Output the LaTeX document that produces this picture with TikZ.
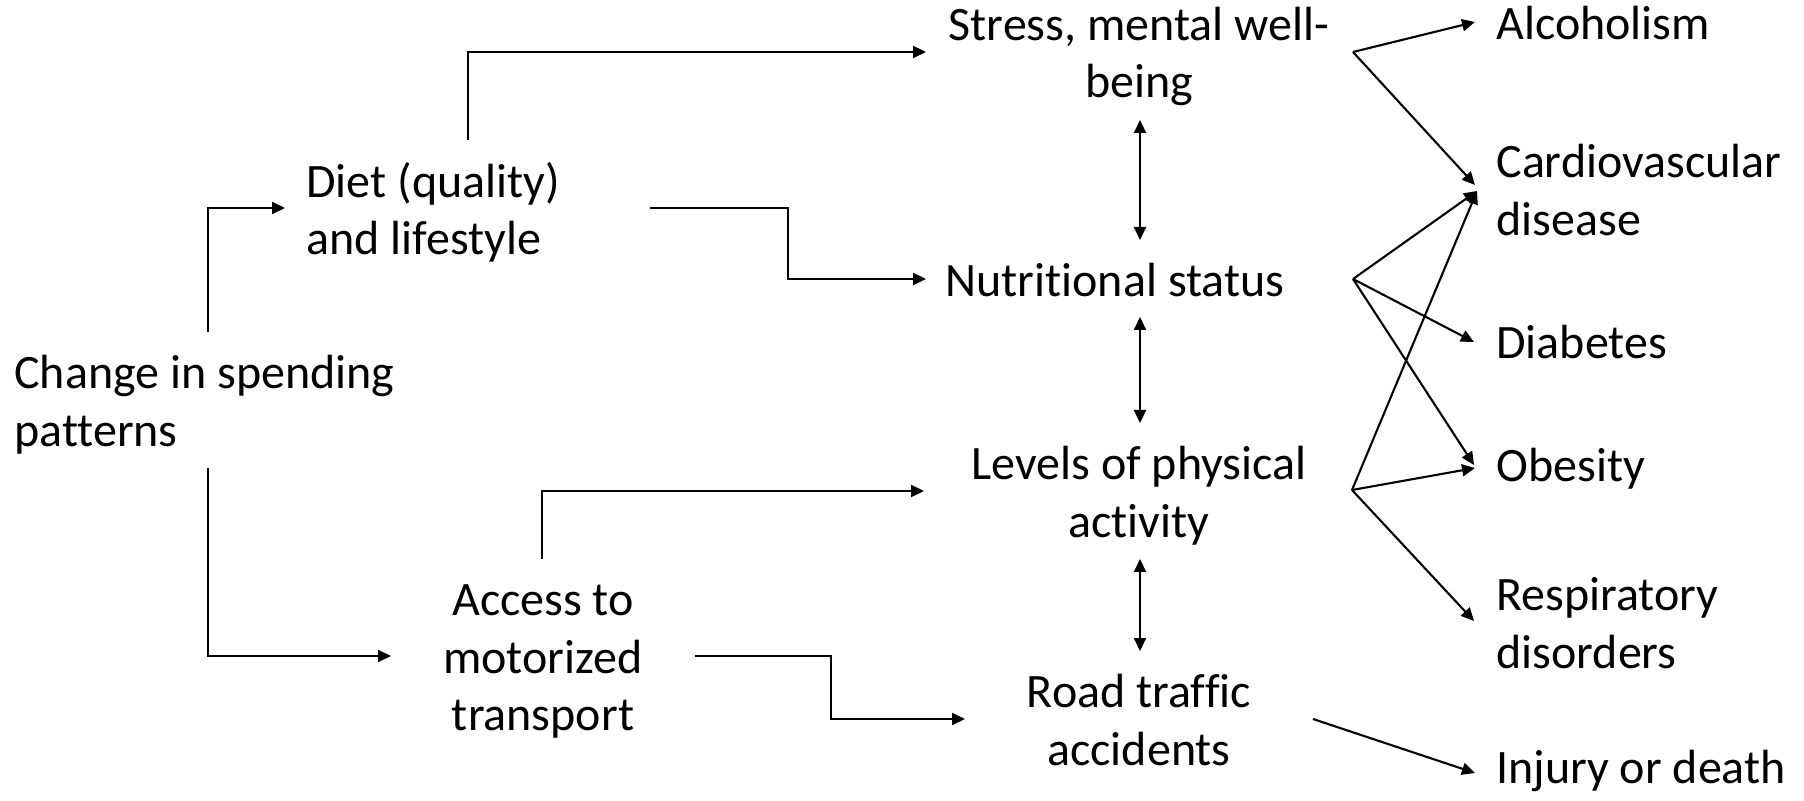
\documentclass[tikz,border=0pt]{standalone}
\usepackage{fontspec}
\setmainfont{Carlito}[Ligatures=NoCommon]
\usetikzlibrary{arrows.meta}
\begin{document}
\begin{tikzpicture}[x=0.5pt,y=-0.5pt,
  lbl/.style={inner sep=0pt,font=\fontsize{24pt}{28.8pt}\selectfont},
  lbll/.style={lbl,align=left,anchor=west},
  lblc/.style={lbl,align=center},
  conn/.style={line width=1.05pt,-{Triangle[length=6.5pt,width=6pt]}},
  dconn/.style={line width=1.05pt,{Triangle[length=6.5pt,width=6pt]}-{Triangle[length=6.5pt,width=6pt]}}]
\useasboundingbox (0,0) rectangle (1804,801);
% nodes
\node[lbll] (chg) at (14,404.5) {Change in spending\\patterns};
\node[lbll] (diet) at (306,212.5) {Diet (quality)\\and lifestyle};
\node[lblc] (acc) at (543,661.5) {Access to\\motorized\\transport};
\node[lblc] (stress) at (1139,56.5) {Stress, mental well-\\being};
\node[lblc] (nut) at (1115,280) {Nutritional status};
\node[lblc] (lev) at (1139,495.5) {Levels of physical\\activity};
\node[lblc] (road) at (1139,720) {Road traffic\\accidents};
\node[lbll] (alc) at (1496,23) {Alcoholism};
\node[lbll] (cvd) at (1496,190) {Cardiovascular\\disease};
\node[lbll] (dia) at (1496,342) {Diabetes};
\node[lbll] (obe) at (1496,469) {Obesity};
\node[lbll] (res) at (1496,623) {Respiratory\\disorders};
\node[lbll] (inj) at (1496,771) {Injury or death};
% connector ends
\coordinate (chgUp) at (208,332);
\coordinate (chgDn) at (208,468);
\coordinate (dietIn) at (285,208);
\coordinate (accIn) at (391,656);
\coordinate (dietUp) at (468,140);
\coordinate (dietR) at (650,208);
\coordinate (stressIn) at (926,52);
\coordinate (nutIn) at (926,279);
\coordinate (accUp) at (542,559);
\coordinate (accR) at (695,656);
\coordinate (levIn) at (924,491);
\coordinate (roadIn) at (965,719);
\coordinate (stressOut) at (1353,52);
\coordinate (nutOut) at (1353,279);
\coordinate (levOut) at (1352,490);
\coordinate (roadOut) at (1313,719);
\coordinate (alcIn) at (1475,22);
\coordinate (cvdInA) at (1475,185);
\coordinate (cvdInB) at (1477,191);
\coordinate (diaIn) at (1474,342);
\coordinate (obeInA) at (1474,465);
\coordinate (obeInB) at (1475,468);
\coordinate (resIn) at (1474,621);
\coordinate (injIn) at (1475,773);
% left connectors
\draw[conn] (chgUp) |- (dietIn);
\draw[conn] (chgDn) |- (accIn);
\draw[conn] (dietUp) |- (stressIn);
\draw[conn] (dietR) -| (788,279) -- (nutIn);
\draw[conn] (accUp) |- (levIn);
\draw[conn] (accR) -| (831,719) -- (roadIn);
% vertical double arrows
\draw[dconn] (1140,120) -- (1140,240);
\draw[dconn] (1140,317) -- (1140,423);
\draw[dconn] (1140,559) -- (1140,651);
% right connectors
\draw[conn] (stressOut) -- (alcIn);
\draw[conn] (stressOut) -- (cvdInA);
\draw[conn] (nutOut) -- (cvdInB);
\draw[conn] (nutOut) -- (diaIn);
\draw[conn] (nutOut) -- (obeInA);
\draw[conn] (levOut) -- (cvdInB);
\draw[conn] (levOut) -- (obeInB);
\draw[conn] (levOut) -- (resIn);
\draw[conn] (roadOut) -- (injIn);
\end{tikzpicture}
\end{document}
